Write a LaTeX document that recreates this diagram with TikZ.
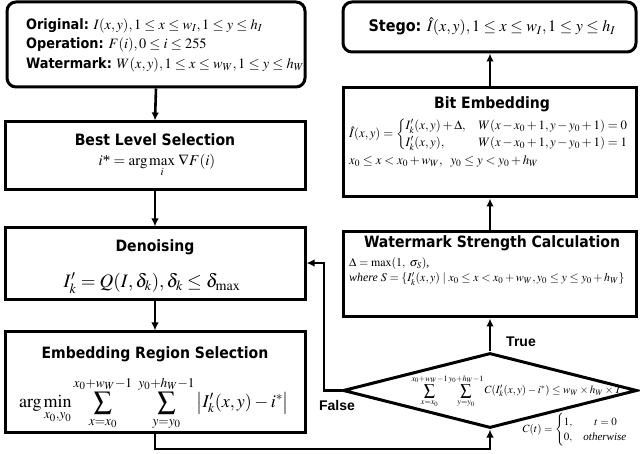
\documentclass[tikz,border=0pt]{standalone}
\usepackage{amsmath}
\usepackage{mathptmx}
\usepackage[no-math]{fontspec}
\setmainfont{Liberation Serif}
\newfontfamily\hfont{DejaVu Sans Condensed}
\newfontfamily\lfont{Liberation Sans}
\usetikzlibrary{shapes.geometric,arrows.meta}
\tikzset{
  box/.style={draw, line width=3pt, inner sep=0pt, minimum width=300pt},
  rbox/.style={box, rounded corners=9pt},
  arr/.style={line width=2.6pt, -{Latex[length=8pt,width=7.5pt]}},
  head/.style={font=\hfont\bfseries\fontsize{15.6}{18}\selectfont, inner sep=0pt},
  txt/.style={inner sep=0pt},
  tf/.style={font=\lfont\bfseries\fontsize{14}{16}\selectfont, inner sep=0pt},
}
\begin{document}
\begin{tikzpicture}[x=1pt,y=-1pt]
\useasboundingbox (0,0) rectangle (640,454);
% left column
\node[rbox, minimum width=298pt, minimum height=85pt] (orig) at (156,44.5) {};
\node[txt, anchor=west, align=left, font=\fontsize{14.3}{19.5}\selectfont] (origtxt) at (26,45)
 {{\hfont\bfseries Original:} $I(x,y), 1\le x\le w_I, 1\le y\le h_I$\\
  {\hfont\bfseries Operation:} $F(i), 0\le i\le 255$\\
  {\hfont\bfseries Watermark:} $W(x,y), 1\le x\le w_W, 1\le y\le h_W$};
\node[box, minimum height=68pt] (best) at (155,156) {};
\node[head] (besth) at (155,140) {Best Level Selection};
\node[txt, font=\fontsize{15}{17}\selectfont] (bestf) at (157,166) {$i\text{*} = \arg\max\limits_i\, \nabla F(i)$};
\node[box, minimum height=72pt] (den) at (155,264) {};
\node[head] (denh) at (155,247) {Denoising};
\node[txt, font=\fontsize{19}{22}\selectfont] (denf) at (152,283) {$I'_k = Q(I,\delta_k), \delta_k \le \delta_{\max}$};
\node[box, minimum height=100pt] (emb) at (155,382) {};
\node[head] (embh) at (155,354) {Embedding Region Selection};
\node[txt, font=\fontsize{18}{20}\selectfont] (embf) at (154,403)
 {$\displaystyle \arg\min_{x_0,y_0} \sum_{x=x_0}^{x_0+w_W-1}\ \sum_{y=y_0}^{y_0+h_W-1} \left| I'_k(x,y) - i^* \right|$};
% right column
\node[rbox, minimum width=293pt, minimum height=50pt] (stego) at (489.5,27) {};
\node[txt, font=\fontsize{16}{18}\selectfont] (stegot) at (492,27)
 {{\hfont\bfseries Stego:} $\hat I(x,y), 1\le x\le w_I, 1\le y\le h_I$};
\node[box, minimum width=293pt, minimum height=109pt] (bit) at (489.5,142.5) {};
\node[head] (bith) at (492,104) {Bit Embedding};
\node[txt, anchor=west, font=\fontsize{12.8}{14}\selectfont] (bitf) at (349,134.5)
 {$\hat I(x,y) = \begin{cases} I'_k(x,y)+\Delta, & W(x-x_0+1, y-y_0+1)=0\\ I'_k(x,y), & W(x-x_0+1, y-y_0+1)=1\end{cases}$};
\node[txt, anchor=west, font=\fontsize{12.8}{14}\selectfont] (bitr) at (349,161)
 {$x_0\le x< x_0+w_W,\ \ y_0\le y<y_0+h_W$};
\node[box, minimum width=293pt, minimum height=85pt] (wsc) at (489.5,274.5) {};
\node[head] (wsch) at (492,243) {Watermark Strength Calculation};
\node[txt, anchor=west, align=left, font=\fontsize{11.9}{15}\selectfont] (wscf) at (349,271.5)
 {$\Delta = \max(1,\ \sigma_S)$,\\
  $\textit{where } S=\{I'_k(x,y) \mid x_0\le x<x_0+w_W, y_0\le y\le y_0+h_W\}$};
\node[draw, shape=diamond, line width=3pt, inner sep=0pt, minimum width=294pt, minimum height=75pt] (dia) at (490,390.5) {};
\node[txt, font=\fontsize{11}{13}\selectfont] (diaf) at (517,391)
 {$\displaystyle \sum_{x=x_0}^{x_0+w_W-1}\sum_{y=y_0}^{y_0+h_W-1} C(I'_k(x,y)-i^*) \le w_W\times h_W\times T$};
\node[txt, font=\fontsize{11}{13}\selectfont] (ct) at (575,430)
 {$C(t)=\begin{cases}1, & \quad t=0\\ 0, & \textit{otherwise}\end{cases}$};
\node[tf] (true) at (521,342) {True};
\node[tf] (false) at (337,405) {False};
% connectors
\draw[arr] (orig.south) -- (best.north);
\draw[arr] (best.south) -- (den.north);
\draw[arr] (den.south) -- (emb.north);
\coordinate (b1) at (155,449);
\coordinate (b2) at (490,449);
\draw[arr] (emb.south) -- (b1) -- (b2) -- (dia.south);
\draw[arr] (dia.north) -- (wsc.south -| dia.north);
\draw[arr] (wsc.north -| dia.north) -- (bit.south -| dia.north);
\draw[arr] (bit.north -| dia.north) -- (stego.south -| dia.north);
\coordinate (f1) at (324,390.5);
\coordinate (f2) at (324,263);
\draw[arr] (dia.west) -- (f1) -- (f2) -- (den.east |- f2);
\end{tikzpicture}
\end{document}
